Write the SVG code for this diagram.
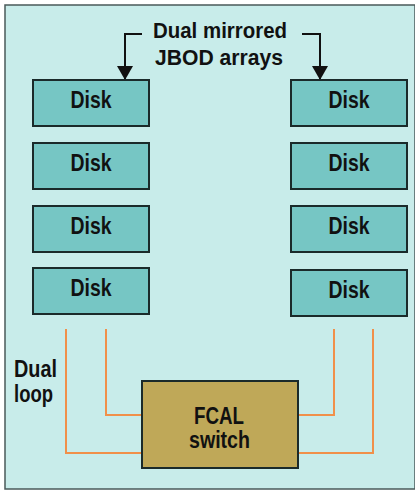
<svg xmlns="http://www.w3.org/2000/svg" width="415" height="492" viewBox="0 0 415 492">
<defs>
<style>
.t{font-family:"Liberation Sans",Arial,sans-serif;font-weight:bold;fill:#111;}
.disk rect{fill:#76c6c4;stroke:#1a2a2a;stroke-width:2;}
.disk text{font-size:24px;text-anchor:middle;}
.loop{fill:none;stroke:#f0904a;stroke-width:2;}
.ptr{fill:none;stroke:#111;stroke-width:2;}
</style>
<marker id="ah2" viewBox="0 0 14 16" refX="14" refY="8" markerWidth="15" markerHeight="16" markerUnits="userSpaceOnUse" orient="auto">
<path d="M0,0 L14,8 L0,16 Z" fill="#111"/>
</marker>
</defs>
<rect x="0" y="0" width="415" height="492" fill="#ffffff"/>
<rect x="5" y="5" width="410" height="484" fill="#c8ecea" stroke="#4a5a5a" stroke-width="1.5"/>
<g id="title">
<text class="t" x="153" y="38" font-size="22" textLength="134" lengthAdjust="spacingAndGlyphs">Dual mirrored</text>
<text class="t" x="155" y="65" font-size="22" textLength="128" lengthAdjust="spacingAndGlyphs">JBOD arrays</text>
</g>
<g id="connectors">
<path class="ptr" d="M142,34 H125 V80" marker-end="url(#ah2)"/>
<path class="ptr" d="M302,34 H320 V80" marker-end="url(#ah2)"/>
<path class="loop" d="M66,329 V453 H142"/>
<path class="loop" d="M106,329 V415 H142"/>
<path class="loop" d="M334,329 V415 H298"/>
<path class="loop" d="M373,329 V453 H298"/>
</g>
<g id="disk-l1" class="disk"><rect x="33" y="80" width="116" height="46"/><text class="t" x="91" y="108" textLength="41" lengthAdjust="spacingAndGlyphs">Disk</text></g>
<g id="disk-l2" class="disk"><rect x="33" y="143" width="116" height="46"/><text class="t" x="91" y="171" textLength="41" lengthAdjust="spacingAndGlyphs">Disk</text></g>
<g id="disk-l3" class="disk"><rect x="33" y="206" width="116" height="46"/><text class="t" x="91" y="234" textLength="41" lengthAdjust="spacingAndGlyphs">Disk</text></g>
<g id="disk-l4" class="disk"><rect x="33" y="268" width="116" height="46"/><text class="t" x="91" y="296" textLength="41" lengthAdjust="spacingAndGlyphs">Disk</text></g>
<g id="disk-r1" class="disk"><rect x="291" y="80" width="116" height="46"/><text class="t" x="349" y="108" textLength="41" lengthAdjust="spacingAndGlyphs">Disk</text></g>
<g id="disk-r2" class="disk"><rect x="291" y="143" width="116" height="46"/><text class="t" x="349" y="171" textLength="41" lengthAdjust="spacingAndGlyphs">Disk</text></g>
<g id="disk-r3" class="disk"><rect x="291" y="206" width="116" height="46"/><text class="t" x="349" y="234" textLength="41" lengthAdjust="spacingAndGlyphs">Disk</text></g>
<g id="disk-r4" class="disk"><rect x="291" y="270" width="116" height="46"/><text class="t" x="349" y="298" textLength="41" lengthAdjust="spacingAndGlyphs">Disk</text></g>
<g id="switch">
<rect x="142" y="381" width="156" height="87" fill="#bfa858" stroke="#1a2a2a" stroke-width="2"/>
<text class="t" x="194" y="424" font-size="23.5" textLength="50" lengthAdjust="spacingAndGlyphs">FCAL</text>
<text class="t" x="189" y="448" font-size="23.5" textLength="61" lengthAdjust="spacingAndGlyphs">switch</text>
</g>
<g id="dual-loop-label">
<text class="t" x="14" y="377" font-size="24" textLength="43" lengthAdjust="spacingAndGlyphs">Dual</text>
<text class="t" x="14" y="402" font-size="24" textLength="39" lengthAdjust="spacingAndGlyphs">loop</text>
</g>
</svg>
